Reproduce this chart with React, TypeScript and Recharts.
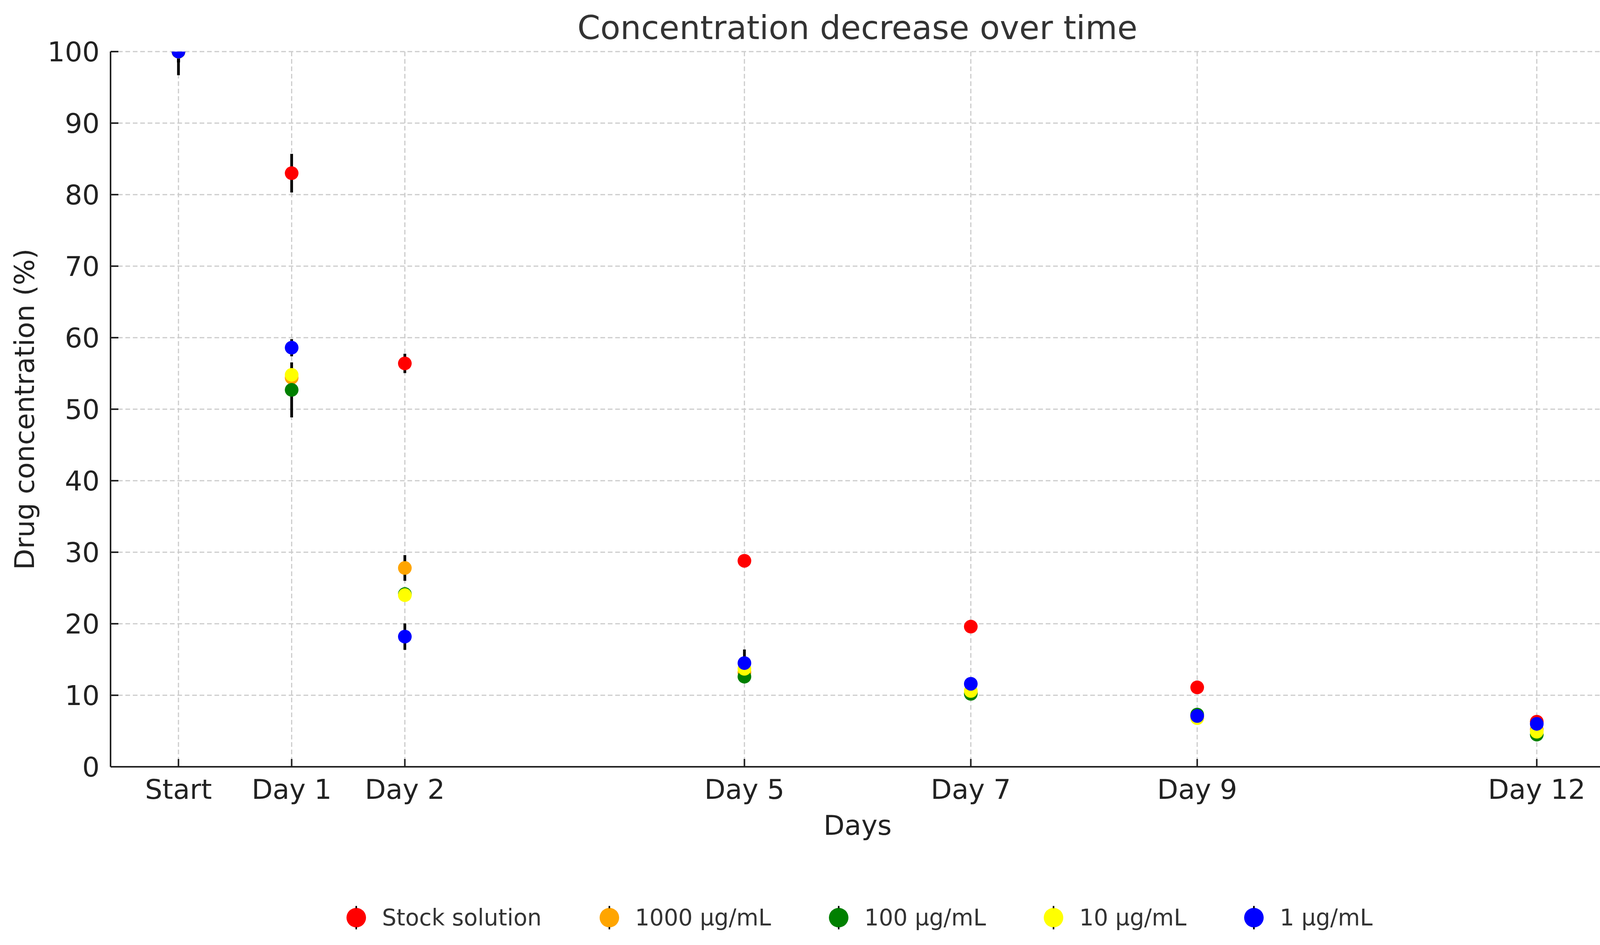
import React from "react";
import {
  ScatterChart,
  Scatter,
  XAxis,
  YAxis,
  CartesianGrid,
  ErrorBar,
  Label,
} from "recharts";

const FONT = "DejaVu Sans";

// sampling days and their tick labels
const days = [0, 1, 2, 5, 7, 9, 12];
const dayLabels = ["Start", "Day 1", "Day 2", "Day 5", "Day 7", "Day 9", "Day 12"];
const yTicks = [0, 10, 20, 30, 40, 50, 60, 70, 80, 90, 100];
const Y_MAX = 100;

// mean concentration (%) per series
const stock = [100, 83.0, 56.4, 28.8, 19.6, 11.1, 6.3];
const c1000 = [100, 54.4, 27.8, 13.2, 10.4, 7.0, 5.2];
const c100 = [100, 52.7, 24.15, 12.6, 10.2, 7.3, 4.5];
const c10 = [100, 54.8, 24.0, 13.7, 10.6, 6.8, 4.9];
const c1 = [100, 58.6, 18.2, 14.5, 11.6, 7.1, 6.0];

// error (sd) per series
const stockErr = [3.3, 2.7, 1.35, 0.6, 0.5, 0.4, 0.3];
const c1000Err = [1.5, 1.0, 1.8, 0.6, 0.5, 0.4, 0.3];
const c100Err = [1.5, 3.85, 0.8, 0.6, 0.5, 0.4, 0.3];
const c10Err = [1.5, 1.0, 0.8, 0.6, 0.5, 0.4, 0.3];
const c1Err = [1.5, 1.2, 1.85, 1.9, 0.5, 0.4, 0.3];

const seriesNames = ["Stock solution", "1000 µg/mL", "100 µg/mL", "10 µg/mL", "1 µg/mL"];
const seriesColors = ["#ff0000", "#ffa500", "#008000", "#ffff00", "#0000ff"];
const seriesValues = [stock, c1000, c100, c10, c1];
const seriesErrors = [stockErr, c1000Err, c100Err, c10Err, c1Err];

const W = 4133;
const H = 2418;

const XTick = ({ x, y, payload }: any) => {
  const idx = days.indexOf(payload.value);
  return (
    <g>
      <line x1={x} x2={x} y1={y} y2={y - 20} stroke="#222" strokeWidth={4} />
      <text x={x} y={y + 82} textAnchor="middle" fontSize={70} fill="#222" fontFamily={FONT}>
        {dayLabels[idx]}
      </text>
    </g>
  );
};

const YTick = ({ x, y, payload }: any) => (
  <g>
    <line x1={x} x2={x + 20} y1={y} y2={y} stroke="#222" strokeWidth={4} />
    <text x={x - 28} y={y + 25} textAnchor="end" fontSize={70} fill="#222" fontFamily={FONT}>
      {payload.value}
    </text>
  </g>
);

const makeDot = (color: string) => (props: any) => {
  const { cx, cy } = props;
  return <circle cx={cx} cy={cy} r={17.5} fill={color} />;
};

// error bars are clipped at the top of the axes, like the plot area
const buildRows = (s: number) =>
  days.map((d, i) => {
    const v = seriesValues[s][i];
    const e = seriesErrors[s][i];
    return { day: d, value: v, err: [e, Math.max(0, Math.min(e, Y_MAX - v))] };
  });

export default function App() {
  return (
    <div style={{ position: "absolute", left: 0, top: 0, width: W, height: H, background: "#fff" }}>
      <ScatterChart
        width={W}
        height={H}
        margin={{ top: 132, right: 25, left: 0, bottom: 0 }}
      >
        <CartesianGrid stroke="#cccccc" strokeWidth={3} strokeDasharray="12 7" />
        <XAxis
          type="number"
          dataKey="day"
          domain={[-0.6, 12.6]}
          allowDataOverflow
          ticks={days}
          interval={0}
          height={456}
          tickSize={0}
          tickMargin={0}
          tickLine={false}
          tick={<XTick />}
          axisLine={{ stroke: "#222", strokeWidth: 4 }}
        >
          <Label
            value="Days"
            position="insideTop"
            offset={124}
            style={{ fontSize: 70, fill: "#222", fontFamily: FONT }}
          />
        </XAxis>
        <YAxis
          type="number"
          dataKey="value"
          domain={[0, Y_MAX]}
          allowDataOverflow
          ticks={yTicks}
          interval={0}
          width={283}
          tickSize={0}
          tickMargin={0}
          tickLine={false}
          tick={<YTick />}
          axisLine={{ stroke: "#222", strokeWidth: 4 }}
        >
          <Label
            value="Drug concentration (%)"
            angle={-90}
            position="insideLeft"
            offset={62}
            style={{ fontSize: 70, fill: "#222", fontFamily: FONT, textAnchor: "middle" }}
          />
        </YAxis>
        {seriesNames.map((name, s) => (
          <Scatter
            key={name}
            name={name}
            data={buildRows(s)}
            fill={seriesColors[s]}
            shape={makeDot(seriesColors[s])}
            isAnimationActive={false}
          >
            <ErrorBar dataKey="err" direction="y" width={0} stroke="#000" strokeWidth={7} />
          </Scatter>
        ))}
      </ScatterChart>
      <svg
        width={W}
        height={H}
        style={{ position: "absolute", left: 0, top: 0, pointerEvents: "none" }}
      >
        <text x={2195} y={100} textAnchor="middle" fontSize={84} fill="#333" fontFamily={FONT}>
          Concentration decrease over time
        </text>
      </svg>
      <div
        style={{
          position: "absolute",
          left: 887,
          top: 2316,
          height: 64,
          display: "flex",
          alignItems: "center",
          fontFamily: FONT,
          fontSize: 58,
          color: "#333",
          whiteSpace: "nowrap",
        }}
      >
        {seriesNames.map((name, s) => (
          <div key={name} style={{ display: "flex", alignItems: "center", marginRight: s < 4 ? 148 : 0 }}>
            <svg width={50} height={64}>
              <circle cx={25} cy={32} r={25} fill={seriesColors[s]} />
              <line x1={25} x2={25} y1={2} y2={8} stroke="#000" strokeWidth={4} />
              <line x1={25} x2={25} y1={56} y2={62} stroke="#000" strokeWidth={4} />
            </svg>
            <span style={{ marginLeft: 41, lineHeight: "64px" }}>{name}</span>
          </div>
        ))}
      </div>
    </div>
  );
}
